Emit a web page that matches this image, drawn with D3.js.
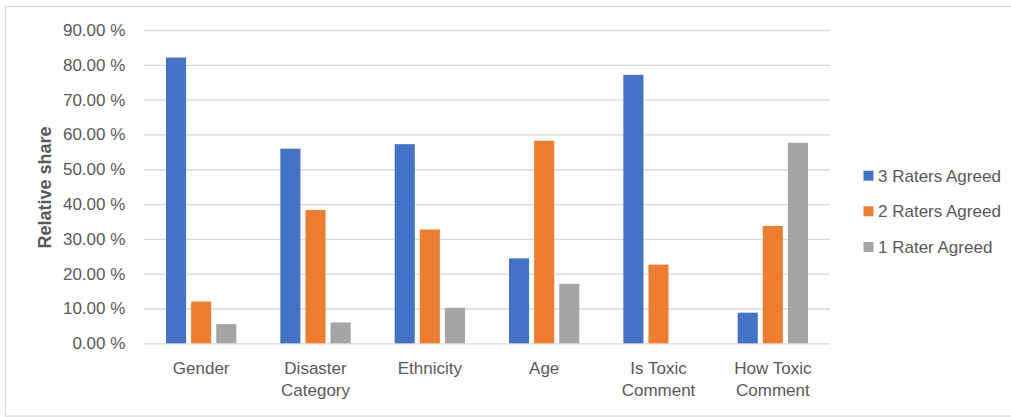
<!DOCTYPE html>
<html>
<head>
<meta charset="utf-8">
<script src="https://cdn.jsdelivr.net/npm/d3@7"></script>
<style>
  body { margin: 0; background: #fff; }
  svg text { font-family: "Liberation Sans", Arial, sans-serif; fill: #595959; }
</style>
</head>
<body>
<div id="chart"></div>
<script>
// ===== data =====
const categories = ["Gender", "Disaster Category", "Ethnicity", "Age", "Is Toxic Comment", "How Toxic Comment"];
const categoryLines = [["Gender"], ["Disaster", "Category"], ["Ethnicity"], ["Age"], ["Is Toxic", "Comment"], ["How Toxic", "Comment"]];
const seriesNames = ["3 Raters Agreed", "2 Raters Agreed", "1 Rater Agreed"];
const threeAgreed = [82.1, 55.9, 57.2, 24.4, 77.1, 8.8];
const twoAgreed = [12.0, 38.3, 32.7, 58.2, 22.6, 33.7];
const oneAgreed = [5.5, 6.0, 10.2, 17.1, 0, 57.6];
const yTicks = [0, 10, 20, 30, 40, 50, 60, 70, 80, 90];
const colors = ["#4472C4", "#ED7D31", "#A5A5A5"];

const seriesValues = [threeAgreed, twoAgreed, oneAgreed];
const rows = categories.map((c, i) => ({
    cat: c,
    vals: seriesNames.map((s, j) => ({ series: s, value: seriesValues[j][i] }))
}));

// ===== layout =====
const svgWidth = 1011;
const svgHeight = 417;
const plot = { left: 144, right: 830, top: 30, bottom: 343.3 };

const svg = d3.select('#chart').append('svg')
    .attr('width', svgWidth)
    .attr('height', svgHeight);

// outer border
svg.append('rect')
    .attr('x', 5.5).attr('y', 6.5)
    .attr('width', 1020).attr('height', 409.5)
    .attr('fill', 'none')
    .attr('stroke', '#D9D9D9')
    .attr('stroke-width', 1.3);

const x0 = d3.scaleBand().domain(categories).range([plot.left, plot.right])
    .paddingInner(0.385).paddingOuter(0.1925);
const x1 = d3.scaleBand().domain(seriesNames).range([0, x0.bandwidth()])
    .paddingInner(0.2).paddingOuter(0);
const y = d3.scaleLinear().domain([0, 90]).range([plot.bottom, plot.top]);
const color = d3.scaleOrdinal().domain(seriesNames).range(colors);

// y axis + gridlines
const gY = svg.append('g')
    .attr('transform', `translate(${plot.left},0)`)
    .call(d3.axisLeft(y)
        .tickValues(yTicks)
        .tickSize(-(plot.right - plot.left))
        .tickPadding(18.7)
        .tickFormat(d => d3.format('.2f')(d) + ' %'));
gY.select('.domain').remove();
gY.selectAll('.tick line').attr('stroke', '#D9D9D9').attr('stroke-width', 1.3);
gY.selectAll('.tick text')
    .attr('font-size', 17)
    .attr('font-family', null)
    .attr('fill', '#595959');

// bars
const groups = svg.selectAll('g.cat').data(rows).enter()
    .append('g').attr('class', 'cat')
    .attr('transform', d => `translate(${x0(d.cat)},0)`);
groups.selectAll('rect').data(d => d.vals).enter()
    .append('rect')
    .attr('x', d => x1(d.series))
    .attr('width', x1.bandwidth())
    .attr('y', d => y(d.value))
    .attr('height', d => y(0) - y(d.value))
    .attr('fill', d => color(d.series));

// x axis labels
const gX = svg.append('g')
    .attr('transform', `translate(0,${plot.bottom})`)
    .call(d3.axisBottom(x0).tickSize(0).tickPadding(0));
gX.select('.domain').remove();
gX.selectAll('.tick text').each(function(d, i) {
    const t = d3.select(this);
    t.text(null).attr('dy', null).attr('y', 30.7)
        .attr('font-size', 17).attr('font-family', null).attr('fill', '#595959');
    categoryLines[i].forEach((line, k) => {
        t.append('tspan').attr('x', 0).attr('dy', k === 0 ? 0 : 22).text(line);
    });
});

// y title
svg.append('text')
    .attr('transform', 'translate(51,187.5) rotate(-90)')
    .attr('text-anchor', 'middle')
    .attr('font-size', 18)
    .attr('font-weight', 'bold')
    .text('Relative share');

// legend
const legend = svg.append('g').attr('transform', 'translate(863.5,0)');
const legendY = [175.7, 211.3, 247];
seriesNames.forEach((s, i) => {
    legend.append('rect')
        .attr('x', 0).attr('y', legendY[i] - 5)
        .attr('width', 10).attr('height', 10)
        .attr('fill', color(s));
    legend.append('text')
        .attr('x', 14.5).attr('y', legendY[i])
        .attr('dy', '0.35em')
        .attr('font-size', 17)
        .text(s);
});
</script>
</body>
</html>
